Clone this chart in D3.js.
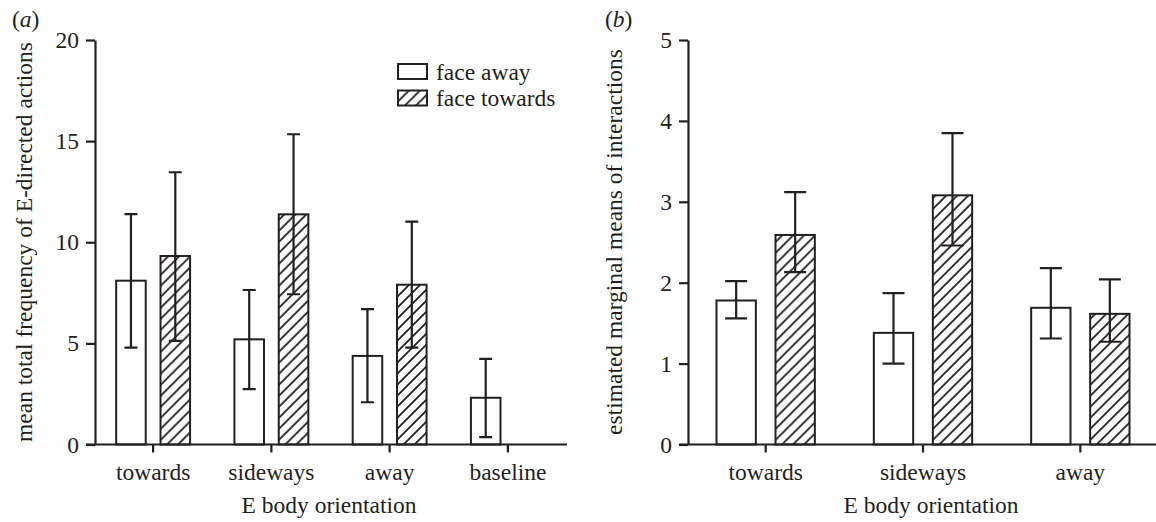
<!DOCTYPE html>
<html lang="en">
<head>
<meta charset="UTF-8">
<title>E body orientation</title>
<script src="https://cdn.jsdelivr.net/npm/d3@7/dist/d3.min.js"></script>
<style>
  body { margin: 0; background: #fff; }
  text { font-family: "Liberation Serif", "Times New Roman", serif; font-size: 23.5px; fill: #231f20; }
</style>
</head>
<body>
<script>
// ---- data ----
var series = ["face away", "face towards"];

// panel (a): mean total frequency of E-directed actions
var catsA = ["towards", "sideways", "away", "baseline"];
var awayA = [8.1, 5.2, 4.38, 2.31];
var awayA_lo = [4.79, 2.74, 2.09, 0.36];
var awayA_hi = [11.39, 7.64, 6.69, 4.23];
var towA = [9.32, 11.38, 7.9, null];
var towA_lo = [5.12, 7.43, 4.79, null];
var towA_hi = [13.46, 15.34, 11.02, null];
var ticksA = [0, 5, 10, 15, 20];

// panel (b): estimated marginal means of interactions
var catsB = ["towards", "sideways", "away"];
var awayB = [1.78, 1.38, 1.69];
var awayB_lo = [1.56, 1.0, 1.31];
var awayB_hi = [2.02, 1.87, 2.18];
var towB = [2.59, 3.08, 1.615];
var towB_lo = [2.13, 2.46, 1.27];
var towB_hi = [3.12, 3.85, 2.04];
var ticksB = [0, 1, 2, 3, 4, 5];

var ink = "#231f20";
var svg = d3.select("body").append("svg").attr("width", 1156).attr("height", 522);

var hatch = svg.append("defs").append("pattern")
    .attr("id", "hatch").attr("patternUnits", "userSpaceOnUse")
    .attr("width", 11).attr("height", 11);
hatch.append("rect").attr("width", 11).attr("height", 11).attr("fill", "#fff");
hatch.append("path").attr("d", "M0,11L11,0M-2,2L2,-2M9,13L13,9")
    .attr("stroke", ink).attr("stroke-width", 1.8);

function rows(cats, v1, lo1, hi1, v2, lo2, hi2) {
  var out = [];
  cats.forEach(function (c, i) {
    out.push({cat: c, s: series[0], v: v1[i], lo: lo1[i], hi: hi1[i]});
    if (v2[i] != null) out.push({cat: c, s: series[1], v: v2[i], lo: lo2[i], hi: hi2[i]});
  });
  return out;
}

function panel(o) {
  var g = svg.append("g");
  var x = d3.scaleBand().domain(o.cats).range(o.xr);
  var xs = d3.scaleBand().domain(series).range([0, x.bandwidth()])
      .paddingInner(1 / 3).paddingOuter(0.5);
  var y = d3.scaleLinear().domain([0, o.ticks[o.ticks.length - 1]]).range([444.5, 40]);

  var bar = g.selectAll("g.bar").data(o.data).join("g").attr("class", "bar")
      .attr("transform", function (d) { return "translate(" + (x(d.cat) + xs(d.s)) + ",0)"; });
  bar.append("rect")
      .attr("y", function (d) { return y(d.v); })
      .attr("width", xs.bandwidth())
      .attr("height", function (d) { return y(0) - y(d.v); })
      .attr("fill", function (d) { return d.s === series[0] ? "#fff" : "url(#hatch)"; })
      .attr("stroke", ink).attr("stroke-width", 2);
  var cx = xs.bandwidth() / 2, cw = o.cap / 2;
  bar.append("path")
      .attr("d", function (d) {
        return "M" + cx + "," + y(d.lo) + "V" + y(d.hi) +
               "M" + (cx - cw) + "," + y(d.hi) + "h" + o.cap +
               "M" + (cx - cw) + "," + y(d.lo) + "h" + o.cap;
      })
      .attr("fill", "none").attr("stroke", ink).attr("stroke-width", 2.2);

  var ax0 = o.yx;
  var yAxis = g.append("g").attr("transform", "translate(" + ax0 + ",0)")
      .call(d3.axisLeft(y).tickValues(o.ticks).tickFormat(d3.format("d"))
        .tickSize(9).tickSizeOuter(0).tickPadding(7));
  var xAxis = g.append("g").attr("transform", "translate(0," + y(0) + ")")
      .call(d3.axisBottom(x).tickSize(8).tickSizeOuter(0).tickPadding(11));
  xAxis.select(".domain").attr("d", "M" + (ax0 - 9) + ",0H" + o.xr[1]);
  [yAxis, xAxis].forEach(function (a) {
    a.attr("font-family", null).attr("font-size", null);
    a.selectAll("path,line").attr("stroke", ink).attr("stroke-width", 2.2);
    a.selectAll("text").attr("fill", ink);
  });

  g.append("text").attr("x", o.xt).attr("y", 513).attr("text-anchor", "middle")
      .text("E body orientation");
  g.append("text").attr("transform", "translate(" + o.yt + ",242) rotate(-90)")
      .attr("text-anchor", "middle").text(o.ytitle);
  var lab = g.append("text").attr("x", o.lx).attr("y", 27);
  lab.append("tspan").text("(");
  lab.append("tspan").attr("font-style", "italic").text(o.label);
  lab.append("tspan").text(")");
}

panel({
  cats: catsA, ticks: ticksA, xr: [94, 567], yx: 95, cap: 13,
  data: rows(catsA, awayA, awayA_lo, awayA_hi, towA, towA_lo, towA_hi),
  xt: 329, yt: 32, lx: 12, label: "a",
  ytitle: "mean total frequency of E-directed actions"
});
panel({
  cats: catsB, ticks: ticksB, xr: [687, 1159], yx: 688, cap: 22,
  data: rows(catsB, awayB, awayB_lo, awayB_hi, towB, towB_lo, towB_hi),
  xt: 931, yt: 622, lx: 605, label: "b",
  ytitle: "estimated marginal means of interactions"
});

// legend (panel a)
var leg = svg.append("g").attr("transform", "translate(398,64)");
var li = leg.selectAll("g").data(series).join("g")
    .attr("transform", function (d, i) { return "translate(0," + i * 26.5 + ")"; });
li.append("rect").attr("width", 29).attr("height", 15)
    .attr("fill", function (d, i) { return i ? "url(#hatch)" : "#fff"; })
    .attr("stroke", ink).attr("stroke-width", 2);
li.append("text").attr("x", 38).attr("y", 15.5).text(function (d) { return d; });
</script>
</body>
</html>
